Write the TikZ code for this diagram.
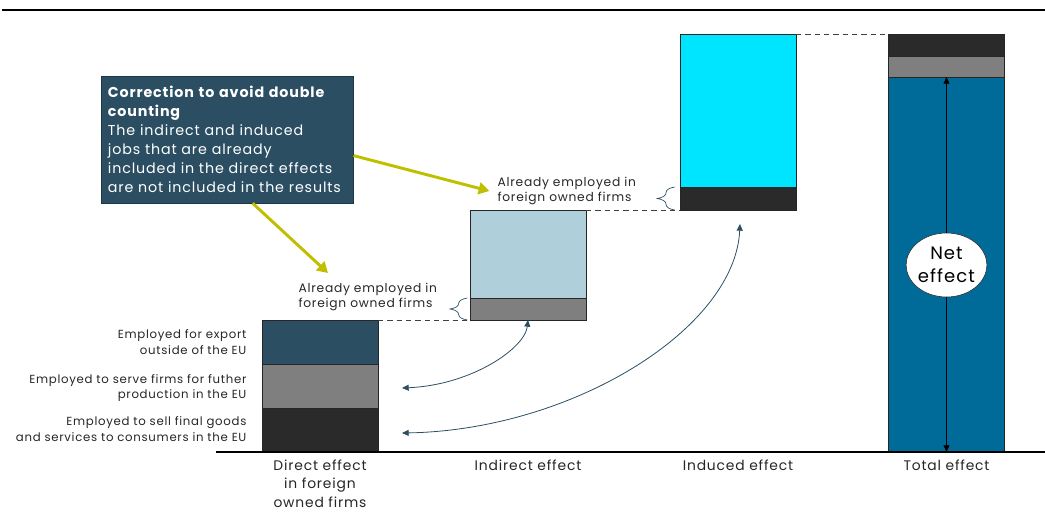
\documentclass[tikz,border=0pt]{standalone}
\usepackage{fontspec}
\setmainfont[LetterSpace=6]{Poppins}
\usetikzlibrary{shapes.geometric,arrows.meta,decorations.pathreplacing}
\definecolor{slate}{HTML}{2B4E63}
\definecolor{midgray}{HTML}{7F7F7F}
\definecolor{darkbar}{HTML}{2A2A2A}
\definecolor{paleblue}{HTML}{AFD0DB}
\definecolor{brightcyan}{HTML}{00E5FF}
\definecolor{netblue}{HTML}{006B99}
\definecolor{hintyellow}{HTML}{BFBF00}

\begin{document}
\begin{tikzpicture}[x=0.75pt,y=-0.75pt,
    seg/.style={draw=black!85,line width=0.6pt,minimum width=87pt,inner sep=0pt,outer sep=0pt},
    sidelab/.style={anchor=east,align=right,inner sep=1pt,text=black!85,font=\fontsize{8.8}{11.5}\selectfont},
    axlab/.style={anchor=north,align=center,text=black!85,font=\fontsize{10.4}{14}\selectfont},
    note/.style={anchor=west,align=left,inner sep=1pt,text=black!85,font=\fontsize{9.2}{11.5}\selectfont},
    corrbox/.style={anchor=north west,fill=slate,draw=slate!70!black,text=white,align=left,text width=179pt,inner xsep=5pt,minimum height=95pt,font=\fontsize{10.7}{14.25}\selectfont},
    gapline/.style={black!75,line width=0.6pt,dash pattern=on 4pt off 3pt},
    brc/.style={slate,line width=0.5pt,decorate,decoration={brace,amplitude=13pt}},
    backarr/.style={slate,line width=0.6pt,{Triangle[length=5pt,width=4.5pt]}-{Triangle[length=5pt,width=4.5pt]}},
    hint/.style={hintyellow,line width=2.2pt,-{Triangle[length=8pt,width=9pt]}},
    netarr/.style={black,line width=0.6pt,-{Triangle[length=5pt,width=4.5pt]}}]
    \useasboundingbox (0,0) rectangle (1045,528);
    \draw[line width=1.5pt] (2,10) -- (1045,10);

    \node[seg,fill=slate,minimum height=33pt] (dexp) at (320,342) {};
    \node[seg,fill=midgray,minimum height=33pt] (dsrv) at (320,386) {};
    \node[seg,fill=darkbar,minimum height=33pt] (dsell) at (320,430) {};
    \node[seg,fill=paleblue,minimum height=66pt] (iup) at (528,254) {};
    \node[seg,fill=midgray,minimum height=16.5pt] (ilow) at (528,309) {};
    \node[seg,fill=brightcyan,minimum height=114.75pt] (nup) at (738,110.5) {};
    \node[seg,fill=darkbar,minimum height=17.25pt] (nlow) at (738,198.5) {};
    \node[seg,fill=darkbar,minimum height=16.5pt] (ttop) at (946.5,45) {};
    \node[seg,fill=midgray,minimum height=15.75pt] (tmid) at (946.5,66.5) {};
    \node[seg,fill=netblue,minimum height=281.25pt] (tnet) at (946.5,264.5) {};
    \draw[line width=0.8pt] (216,452) -- (1045,452);

    \draw[gapline] (dexp.north east) -- (ilow.south west);
    \draw[gapline] (iup.north east) -- (nlow.south west);
    \draw[gapline] (nup.north east) -- (ttop.north west);

    \draw[brc] ([xshift=-2pt]ilow.south west) -- ([xshift=-2pt]ilow.north west);
    \draw[brc] ([xshift=-4pt]nlow.south west) -- ([xshift=-4pt]nlow.north west);
    \node[note] (alr1) at (496,191) {Already employed in\\foreign owned firms};
    \node[note] (alr2) at (297,297) {Already employed in\\foreign owned firms};

    \node[corrbox] (corr) at (101,76) {\textbf{Correction to avoid double}\\\textbf{counting}\\The indirect and induced\\jobs that are already\\included in the direct effects\\are not included in the results};
    \coordinate (hintend) at (328,273);
    \draw[hint] ([yshift=-12pt]corr.east) -- ([xshift=-5pt]alr1.west);
    \draw[hint] ([xshift=19pt]corr.south) -- (hintend);

    \coordinate (srvin) at (402,388);
    \coordinate (sellin) at (402,433);
    \coordinate (indtip) at (740,224);
    \draw[backarr] (srvin) .. controls +(70,-3) and +(-3,28) .. (ilow.south);
    \draw[backarr] (sellin) .. controls +(170,-3) and +(-5,105) .. (indtip);

    \node[ellipse,draw=black!85,fill=white,minimum width=59pt,minimum height=48pt,inner sep=0pt,align=center,font=\fontsize{13.5}{17}\selectfont] (net) at (946.5,265) {Net\\effect};
    \draw[netarr] (net) -- (tnet.north);
    \draw[netarr] (net) -- (tnet.south);

    \node[sidelab] (lexp) at (248,342) {Employed for export\\outside of the EU};
    \node[sidelab] (lsrv) at (248,388) {Employed to serve firms for futher\\production in the EU};
    \node[sidelab] (lsell) at (248,429) {Employed to sell final goods\\and services to consumers in the EU};

    \node[axlab] (xdir) at (320,455) {Direct effect\\in foreign\\owned firms};
    \node[axlab] (xind) at (528,455) {Indirect effect};
    \node[axlab] (xinu) at (738,455) {Induced effect};
    \node[axlab] (xtot) at (946.5,455) {Total effect};
\end{tikzpicture}
\end{document}
